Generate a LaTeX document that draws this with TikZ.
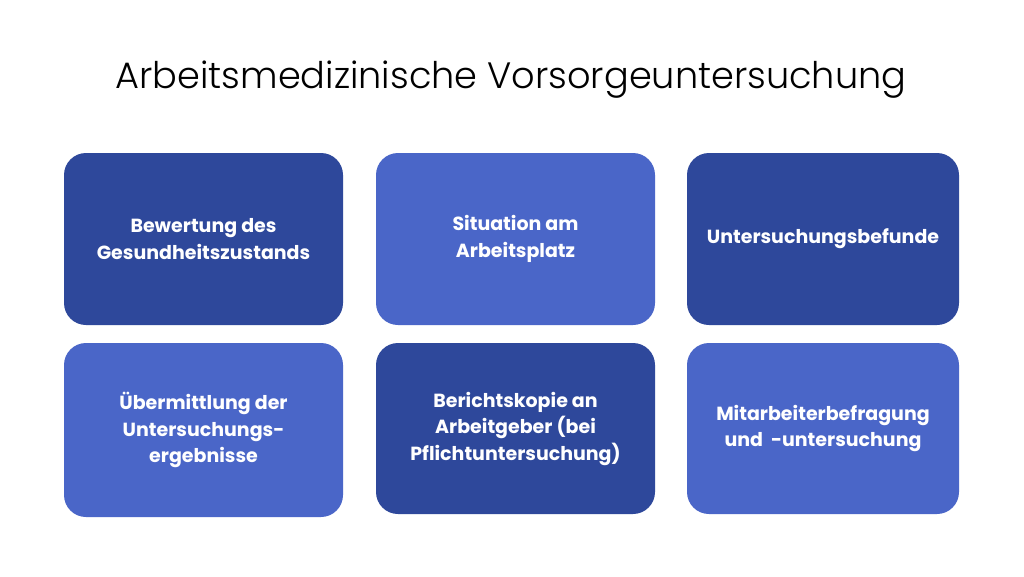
\documentclass[tikz,border=0pt]{standalone}
\usepackage{fontspec}
\setmainfont{Poppins}
\newfontfamily\titlefont{Poppins Light}
\begin{document}
\begin{tikzpicture}[x=1pt,y=-1pt,
  box/.style={rounded corners=22pt, inner sep=0pt, align=center, text=white,
    font=\bfseries\fontsize{19}{26.5}\selectfont},
  darkbox/.style={box, fill=boxdark},
  lightbox/.style={box, fill=boxlight}]
\definecolor{boxdark}{RGB}{46,72,155}
\definecolor{boxlight}{RGB}{74,102,200}
\useasboundingbox (0,0) rectangle (1024,576);
\fill[white] (0,0) rectangle (1024,576);
\node[font=\titlefont\fontsize{36.7}{40}\selectfont] (title) at (511,80) {Arbeitsmedizinische Vorsorgeuntersuchung};
\node[darkbox, minimum width=279pt, minimum height=172pt] (b1) at (203.5,239) {Bewertung des\\Gesundheitszustands};
\node[lightbox, minimum width=279pt, minimum height=172pt] (b2) at (515.5,239) {Situation am\\Arbeitsplatz};
\node[darkbox, minimum width=272pt, minimum height=172pt] (b3) at (823,239) {Untersuchungsbefunde};
\node[lightbox, minimum width=279pt, minimum height=174pt] (b4) at (203.5,430) {Übermittlung der\\Untersuchungs-\\ergebnisse};
\node[darkbox, minimum width=279pt, minimum height=171pt] (b5) at (515.5,428.5) {Berichtskopie an\\Arbeitgeber (bei\\Pflichtuntersuchung)};
\node[lightbox, minimum width=272pt, minimum height=171pt] (b6) at (823,428.5) {Mitarbeiterbefragung\\und\ \ -untersuchung};
\end{tikzpicture}
\end{document}
